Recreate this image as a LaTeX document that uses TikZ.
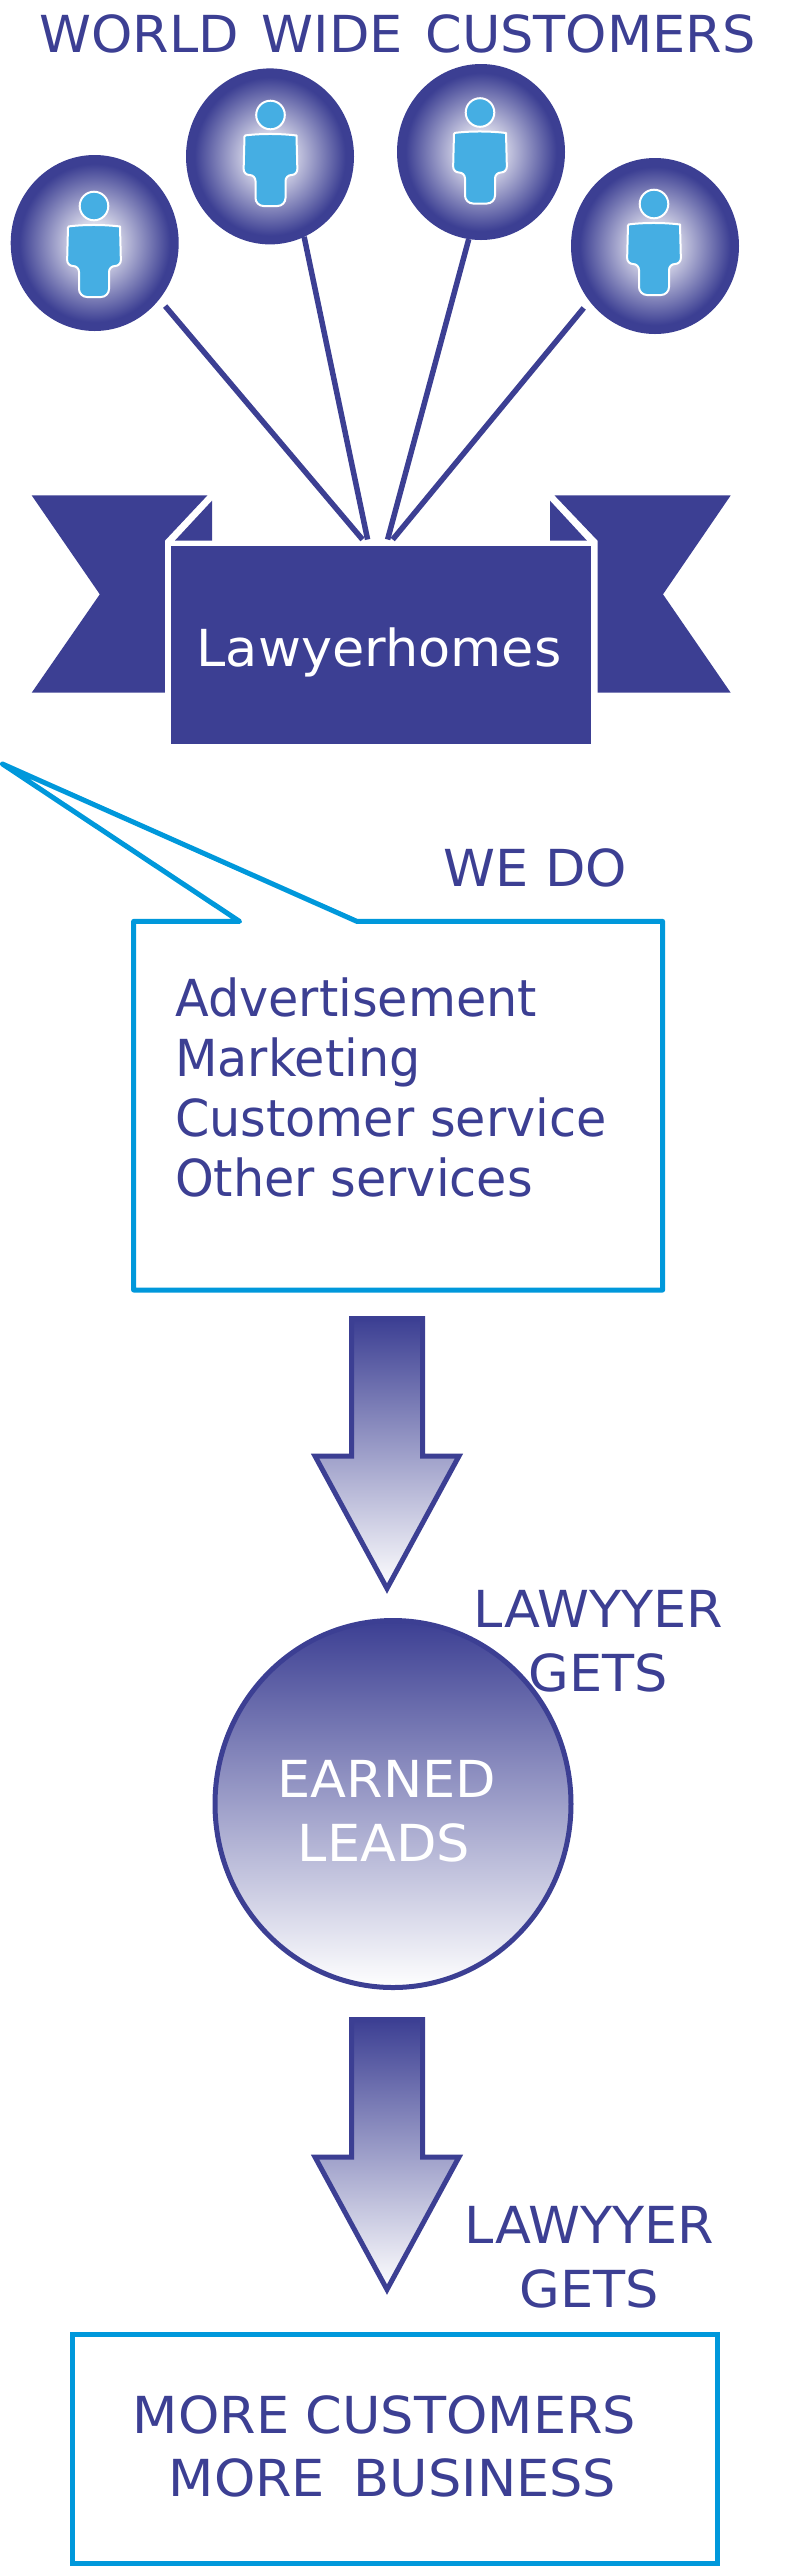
\documentclass[tikz,border=0pt]{standalone}
\usepackage{fontspec}
\setmainfont{DejaVu Sans}[FakeStretch=0.966]
\newfontfamily\capsface{DejaVu Sans}[FakeStretch=1.03]
\usetikzlibrary{shapes.geometric}
\definecolor{inkblue}{HTML}{3C3F93}
\definecolor{calloutblue}{HTML}{0098DB}
\definecolor{personblue}{HTML}{45AEE3}
\pgfdeclareverticalshading{fadedown}{100bp}{color(0bp)=(white); color(25bp)=(white); color(75bp)=(inkblue); color(100bp)=(inkblue)}
\pgfdeclareradialshading{ballglow}{\pgfpointorigin}{color(0bp)=(white); color(2bp)=(white); color(23bp)=(inkblue); color(50bp)=(inkblue)}
\tikzset{
	x=1pt,y=-1pt,
	label text/.style={inner sep=0pt,anchor=base,text=inkblue,font=\capsface\fontsize{51}{60}\selectfont},
	item text/.style={label text,anchor=base west,font=\fontsize{51}{60}\selectfont},
	white text/.style={label text,text=white},
	ball/.style={ellipse,draw=inkblue,line width=4pt,shading=ballglow,minimum width=164pt,minimum height=172pt,inner sep=0pt},
	tether/.style={draw=inkblue,line width=5.5pt},
	ribbon/.style={fill=inkblue,draw=none},
	figure/.style={fill=personblue,draw=white,line width=2pt,line join=round},
	fade arrow/.style={draw=inkblue,line width=5pt,shading=fadedown,line join=miter},
	bluebox/.style={draw=calloutblue,line width=5pt,line join=round}
}
\begin{document}
\begin{tikzpicture}
	\useasboundingbox (0,0) rectangle (803,2568);
	\node[label text] (title) at (397.5,52.4) {WORLD\hspace{6pt} WIDE\hspace{6pt} CUSTOMERS};
	% customers
	\node[ball] (ballA) at (94.7,243) {};
	\node[ball] (ballB) at (270,156.4) {};
	\node[ball] (ballC) at (481,152) {};
	\node[ball] (ballD) at (655,246) {};
	\foreach \hx/\hy in {94/206, 270.5/115, 480/112.5, 654/204} {
		\begin{scope}[shift={(\hx,\hy)}]
			\draw[figure] (0,0) circle (14.3pt);
			\draw[figure] (-26,20.5) .. controls (-10,18.5) and (10,18.5) .. (26,20.5) [rounded corners=6pt] -- (27,60) -- (15,60) [rounded corners=8pt] -- (15,91) -- (-15,91) [rounded corners=6pt] -- (-15,60) -- (-27,60) [rounded corners=1pt] -- cycle;
		\end{scope}
	}
	% ribbon
	\fill[ribbon] (31.7,495.4) -- (207.4,495.4) -- (165,540.5) -- (165,692.7) -- (31.7,692.7) -- (99.8,594.3) -- cycle;
	\fill[ribbon] (212,500.7) -- (212,540.5) -- (175,540.5) -- cycle;
	\fill[ribbon] (730.7,495.4) -- (554.5,495.4) -- (597.5,540.5) -- (597.5,692.7) -- (730.7,692.7) -- (663,594.3) -- cycle;
	\fill[ribbon] (550,500.7) -- (550,540.5) -- (586.8,540.5) -- cycle;
	\node[fill=inkblue,draw=white,line width=5.5pt,minimum width=426pt,minimum height=203pt,inner sep=0pt] (banner) at (381,645) {};
	\node[white text] (brand) at (379,666.5) {Lawyerhomes};
	\coordinate (bowA) at (362.5,539.5);
	\coordinate (bowB) at (367.6,539.5);
	\coordinate (bowC) at (387.6,539.5);
	\coordinate (bowD) at (392.7,539.5);
	\draw[tether,shorten <=9pt] (ballA.-41) -- (bowA);
	\draw[tether] (ballB.-67) -- (bowB);
	\draw[tether] (ballC.-98) -- (bowC);
	\draw[tether,shorten <=9pt] (ballD.220) -- (bowD);
	% what we do
	\node[label text] (wedo) at (535.5,886.4) {WE DO};
	\draw[bluebox] (239.6,921.4) -- (2.5,764) -- (357,921.4) -- (662.6,921.4) -- (662.6,1290) -- (133.6,1290) -- (133.6,921.4) -- cycle;
	\node[item text] (itemA) at (175,1016.7) {Advertisement};
	\node[item text] (itemB) at (175,1076.4) {Marketing};
	\node[item text] (itemC) at (175,1136) {Customer service};
	\node[item text] (itemD) at (175,1196.4) {Other services};
	% arrows
	\foreach \ay in {1318.5,2019.5} {
		\draw[fade arrow] (351.5,\ay) -- (422.5,\ay) -- (422.5,\ay+137.5) -- (459,\ay+137.5) -- (387,\ay+270) -- (315,\ay+137.5) -- (351.5,\ay+137.5) -- cycle;
	}
	% leads
	\node[ellipse,draw=inkblue,line width=5pt,shading=fadedown,minimum width=356pt,minimum height=367pt,inner sep=0pt] (leads) at (393,1804) {};
	\node[white text] (earned) at (387,1797.5) {EARNED};
	\node[white text] (leadsword) at (384,1861.7) {LEADS};
	\node[label text] (getsAtop) at (598.5,1627.8) {LAWYYER};
	\node[label text] (getsAbot) at (598.5,1691) {GETS};
	\node[label text] (getsBtop) at (589.5,2243) {LAWYYER};
	\node[label text] (getsBbot) at (589.5,2307) {GETS};
	% result
	\node[draw=calloutblue,line width=5pt,minimum width=645pt,minimum height=229pt,inner sep=0pt] (result) at (395.4,2448.5) {};
	\node[label text] (moreA) at (384.5,2433) {MORE CUSTOMERS};
	\node[label text] (moreB) at (392.5,2496) {MORE\hspace{12pt} BUSINESS};
\end{tikzpicture}
\end{document}
